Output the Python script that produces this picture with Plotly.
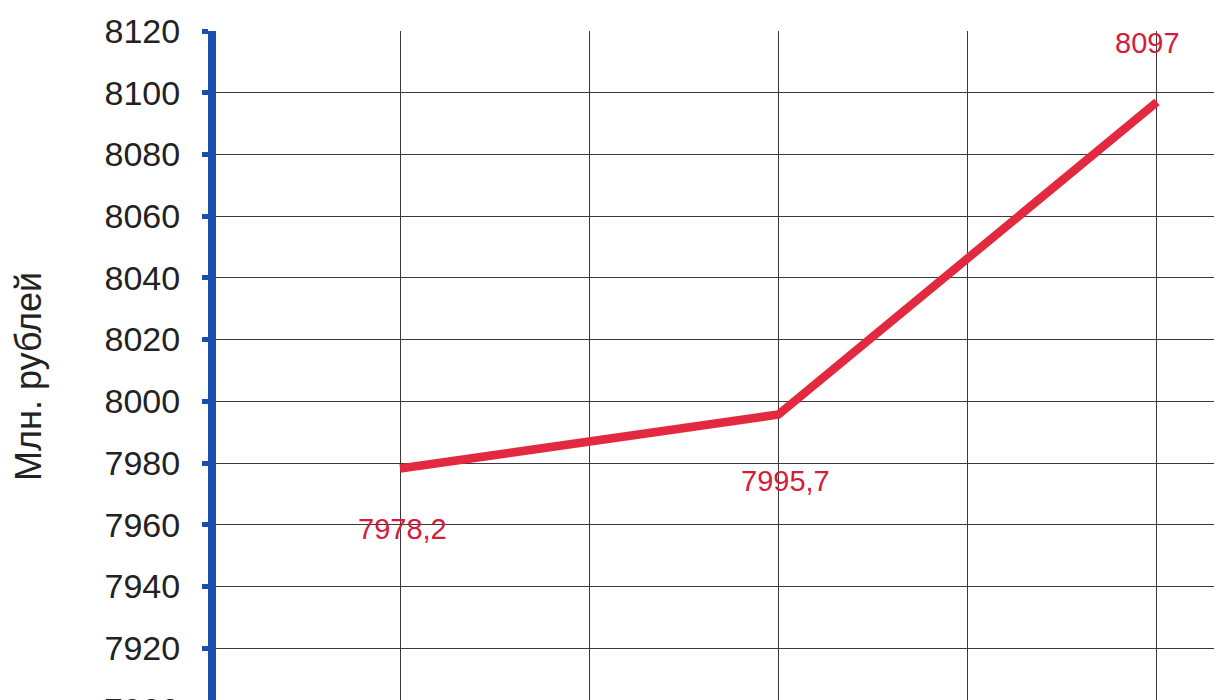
import plotly.graph_objects as go

# Data
x_pos = [1, 3, 5]
values = [7978.2, 7995.7, 8097]
value_labels = ["7978,2", "7995,7", "8097"]
y_ticks = [7900, 7920, 7940, 7960, 7980, 8000, 8020, 8040, 8060, 8080, 8100, 8120]
y_title = "Млн. рублей"

RED = "#e2293f"
LABEL_RED = "#d41c3c"
BLUE = "#1b4fae"
FONT = "Liberation Sans, Arial, sans-serif"

fig = go.Figure()
fig.add_trace(go.Scatter(
    x=x_pos, y=values, mode="lines",
    line=dict(color=RED, width=8.5),
    hoverinfo="skip", showlegend=False, cliponaxis=False,
))

shifts = [(2, -60), (7, -66), (-9, 59)]
for xv, yv, lab, (dx, dy) in zip(x_pos, values, value_labels, shifts):
    fig.add_annotation(x=xv, y=yv, text=lab, showarrow=False,
                       xshift=dx, yshift=dy,
                       font=dict(family=FONT, size=29, color=LABEL_RED))

# partially visible bottom tick label (7900 sits just below the visible range)
fig.add_annotation(x=0, xref="paper", y=0, yref="paper", text=str(y_ticks[0]),
                   showarrow=False, xanchor="right", yanchor="middle",
                   xshift=-34, yshift=-2,
                   font=dict(family=FONT, size=34, color="#222222"))

# axis title
fig.add_annotation(x=0, xref="paper", y=0.489, yref="paper", text=y_title,
                   showarrow=False, textangle=-90, xshift=-187,
                   xanchor="center", yanchor="middle",
                   font=dict(family=FONT, size=36, color="#222222"))

fig.update_layout(
    width=1222, height=700,
    margin=dict(l=208, r=0, t=23, b=0),
    paper_bgcolor="white", plot_bgcolor="white",
    font=dict(family=FONT, color="#222222"),
    xaxis=dict(range=[0.0277, 5.386], tickmode="linear", tick0=0, dtick=1,
               showticklabels=False, showgrid=True, gridcolor="#3a3a3a",
               gridwidth=1, zeroline=False, showline=False, ticks=""),
    yaxis=dict(range=[7900.6, 8120], tickvals=y_ticks,
               ticktext=[str(v) for v in y_ticks],
               showgrid=True, gridcolor="#3a3a3a", gridwidth=1,
               zeroline=False, showline=True, linecolor=BLUE, linewidth=8,
               ticks="outside", ticklen=6, tickwidth=5, tickcolor=BLUE,
               ticklabelstandoff=15,
               tickfont=dict(family=FONT, size=34, color="#222222")),
)

fig.write_html("out.html")
